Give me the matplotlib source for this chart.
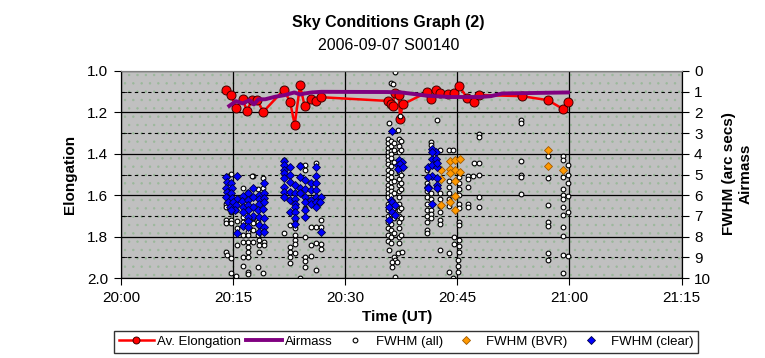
import datetime as dt

import matplotlib
matplotlib.use("Agg")
import matplotlib.dates as mdates
import matplotlib.pyplot as plt
from matplotlib.lines import Line2D
from matplotlib.ticker import FormatStrFormatter, MultipleLocator

plt.rcParams["font.family"] = ["Liberation Sans", "DejaVu Sans"]
plt.rcParams["hatch.linewidth"] = 0.5

START = dt.datetime(2006, 9, 7, 20, 0)

# all times are minutes after 20:00 UT
elong_min = [14.07, 14.73, 15.40, 16.30, 16.86, 17.53, 18.27, 19.03, 21.83, 22.63,
             23.25, 23.96, 24.58, 25.38, 26.09, 26.75, 35.70, 36.07, 36.34, 36.60,
             37.14, 37.36, 37.67, 40.96, 41.49, 42.15, 42.69, 43.79, 44.59, 45.20,
             46.36, 47.25, 47.88, 53.64, 57.10, 59.10, 59.76]
elong = [1.090, 1.114, 1.180, 1.138, 1.193, 1.141, 1.141, 1.198, 1.090, 1.150,
         1.259, 1.070, 1.169, 1.137, 1.146, 1.127, 1.145, 1.161, 1.170, 1.109,
         1.114, 1.230, 1.162, 1.103, 1.138, 1.093, 1.106, 1.112, 1.106, 1.072,
         1.132, 1.151, 1.116, 1.122, 1.141, 1.183, 1.149]

airmass_min = [14.5, 15.4, 16.3, 17.2, 17.8, 18.4, 19.3, 20.6, 21.9, 23.2, 24.0, 24.6,
               25.5, 26.8, 35.6, 37.5, 39.5, 41.0, 44.0, 48.0, 49.5, 51.0, 59.8]
airmass = [1.69, 1.46, 1.57, 1.41, 1.62, 1.37, 1.37, 1.25, 1.17, 1.04, 1.14, 1.09,
           1.04, 1.01, 1.02, 1.04, 1.13, 1.20, 1.26, 1.26, 1.22, 1.09, 1.04]

all_min = [
    # 20:14 - 20:19
    14.73, 14.15, 17.61, 19.03, 16.28, 16.95, 18.28, 19.03, 14.10, 14.06, 15.40, 14.73,
    16.28, 17.61, 14.10, 14.10, 14.73, 14.73, 15.48, 16.28, 17.61, 18.28, 15.48, 16.95,
    17.61, 16.28, 16.95, 18.28, 16.28, 16.95, 17.61, 18.41, 19.08, 15.48, 16.95, 16.95,
    18.41, 19.08, 14.06, 14.15, 14.73, 16.28, 16.95, 18.41, 16.28, 16.95, 16.95, 14.73,
    15.40, 19.03, 18.37, 17.53,
    # 20:21 - 20:27
    21.83, 21.83, 22.63, 23.29, 23.29, 23.29, 23.29, 23.29, 22.63, 22.63, 22.63, 22.63,
    23.96, 24.62, 24.62, 23.96, 24.62, 24.62, 24.62, 25.38, 25.38, 26.13, 26.13, 26.80,
    26.80, 26.13, 26.80, 26.80, 24.62, 26.13, 25.38, 24.62, 23.29,
    # 20:35 - 20:38
    36.60, 36.16, 36.38, 35.80, 37.35, 37.13,
    35.75, 35.75, 35.75, 35.75, 35.75, 35.75, 35.75, 35.75, 35.75, 35.75, 35.75,
    35.75, 35.75, 35.75, 35.75, 35.75, 35.75, 35.75, 35.75, 35.75, 35.75,
    36.10, 36.10, 36.10, 36.10, 36.10, 36.10, 36.10, 36.10, 36.10, 36.10, 36.10,
    36.10, 36.10, 36.10, 36.10, 36.10, 36.10, 36.10,
    36.50, 36.50, 36.50, 36.50, 36.50, 36.50, 36.50, 36.50,
    37.15, 37.15, 37.15, 37.15, 37.15, 37.15, 37.15, 37.15, 37.15, 37.15, 37.15,
    37.15, 37.15, 37.15, 37.15,
    37.50, 37.50, 37.50, 37.50, 37.50, 37.50, 37.50, 37.50,
    37.13, 37.58, 36.47, 36.69, 36.25, 36.90, 36.25, 36.60, 35.80,
    # 20:40 - 20:48
    41.49, 41.49, 40.90, 40.90, 40.90, 40.90, 40.90, 40.90, 40.90, 40.90, 40.90, 40.90,
    40.90, 41.49, 41.49, 41.49, 41.49, 41.49, 42.68, 42.68, 42.68, 42.68, 42.68, 42.68,
    42.68, 42.68, 43.88, 43.88, 43.88, 43.88, 43.88, 43.88, 44.46, 45.20, 45.20, 45.20,
    45.20, 45.20, 45.20, 45.20, 45.20, 44.60, 44.60, 45.20, 45.20, 45.20, 43.88, 45.10,
    45.10, 45.10, 44.46, 43.88, 46.45, 46.45, 47.12, 46.45, 47.92, 47.20, 47.92, 47.87,
    47.87, 46.45, 46.45, 47.87, 47.87, 42.24,
    # 20:53 - 21:00
    53.55, 53.55, 53.55, 53.55, 53.55, 53.55, 57.10, 57.10, 57.10, 57.10, 57.10, 57.10,
    57.10, 59.09, 59.09, 59.76, 59.09, 59.76, 59.76, 59.09, 59.09, 59.09, 59.76, 59.09,
    59.76, 59.09, 59.09, 59.09, 59.09, 59.76, 59.09,
]
all_fwhm = [
    4.98, 5.08, 5.08, 5.19, 5.67, 5.83, 5.72, 5.63, 6.40, 6.56, 6.72, 6.80,
    7.04, 7.12, 7.20, 7.36, 7.20, 7.36, 7.23, 7.28, 7.33, 7.28, 7.60, 7.76,
    7.68, 7.92, 7.92, 7.92, 8.25, 8.25, 8.25, 8.17, 8.25, 8.41, 8.49, 8.73,
    8.41, 8.41, 8.73, 8.89, 9.05, 8.97, 8.97, 8.73, 9.42, 9.69, 9.80, 9.77,
    9.90, 9.74, 9.45, 5.08,
    4.31, 7.81, 7.44, 7.60, 7.92, 8.17, 8.33, 8.78, 8.49, 8.73, 8.97, 9.29,
    4.55, 4.55, 4.79, 9.98, 8.97, 9.16, 9.48, 8.41, 8.94, 8.29, 9.61, 8.33,
    8.57, 7.52, 7.17, 7.52, 8.00, 4.44, 7.52, 6.60, 7.20,
    0.05, 0.58, 0.64, 2.51, 2.19, 2.83,
    3.30, 3.50, 3.70, 3.90, 4.10, 4.30, 4.50, 4.80, 5.00, 5.20, 5.50,
    5.70, 5.90, 6.10, 6.40, 6.70, 7.00, 7.30, 7.60, 7.90, 8.20,
    3.40, 3.60, 3.85, 4.00, 4.20, 4.60, 4.90, 5.10, 5.35, 5.60, 5.80,
    6.00, 6.30, 6.90, 7.40, 7.70, 8.00, 8.30,
    3.50, 3.80, 4.40, 5.30, 5.90, 6.60, 7.10, 7.80,
    3.30, 3.60, 3.90, 4.90, 5.20, 5.50, 5.80, 6.10, 6.40, 6.70, 7.00,
    7.30, 7.60, 8.00, 8.30,
    3.40, 3.80, 5.00, 5.40, 5.70, 6.60, 7.10, 7.90,
    8.78, 8.73, 8.97, 9.10, 9.20, 9.20, 9.45, 9.93, 8.65,
    3.42, 3.58, 4.80, 5.10, 5.40, 5.80, 6.10, 6.40, 6.70, 7.00, 7.30, 7.68,
    7.84, 5.90, 6.20, 6.72, 6.90, 7.12, 3.82, 5.90, 6.20, 6.50, 6.80, 7.20,
    7.40, 8.65, 3.82, 5.30, 5.60, 5.90, 6.20, 6.50, 3.82, 5.10, 5.40, 5.70,
    6.00, 6.40, 6.60, 7.28, 7.44, 8.00, 8.37, 8.17, 8.45, 8.73, 8.81, 9.13,
    9.40, 9.69, 10.0, 9.69, 5.08, 5.20, 5.08, 5.59, 5.03, 4.44, 4.44, 3.05,
    3.18, 6.40, 6.59, 6.10, 6.59, 2.35,
    2.35, 2.50, 4.34, 5.00, 5.14, 5.95, 4.11, 5.19, 6.45, 7.28, 7.49, 8.78,
    9.10, 4.11, 4.31, 4.55, 5.11, 5.03, 5.43, 5.72, 6.00, 6.16, 6.04, 6.59,
    6.80, 6.96, 7.55, 7.96, 8.86, 8.92, 9.77,
]

bvr_min = [42.82, 42.82, 42.82, 44.00, 44.68, 45.35, 44.00, 44.68, 45.35, 44.00,
           44.68, 44.68, 44.00, 44.68, 57.10, 57.10, 59.14]
bvr_fwhm = [4.76, 5.24, 6.48, 4.34, 4.31, 4.27, 4.71, 4.76, 4.87, 4.95,
            5.32, 6.04, 6.32, 6.72, 3.82, 4.58, 4.76]

clear_min = [
    14.06, 15.48, 14.15, 14.73, 14.06, 14.80, 14.20, 14.73, 14.06, 14.80, 15.48, 14.30,
    14.95, 15.40, 14.60, 15.20, 14.73, 16.28, 16.95, 17.61, 18.41, 19.08, 19.15, 16.20,
    16.95, 17.61, 18.41, 19.08, 16.28, 16.95, 17.65, 18.41, 19.15, 16.95, 16.28, 17.61,
    18.35, 19.00, 16.95, 18.41, 19.08, 16.95, 16.28, 16.95, 18.41, 19.08, 15.48, 18.41,
    19.08,
    21.83, 21.83, 21.83, 21.83, 21.83, 21.83, 21.83, 21.83, 22.63, 22.63, 22.63, 22.63,
    22.63, 22.63, 23.29, 23.29, 23.29, 23.29, 23.29, 23.29, 23.29, 23.29, 23.96, 23.96,
    23.96, 23.96, 24.62, 24.62, 24.62, 24.62, 24.62, 24.62, 25.38, 25.38, 25.38, 25.38,
    26.13, 26.13, 26.13, 26.13, 26.13, 26.13, 26.13, 26.80, 26.80, 26.70,
    36.33, 37.22, 37.58, 37.13, 37.49, 37.35, 37.13, 37.67, 36.07, 36.33, 35.89, 36.24,
    36.69, 35.89, 36.60,
    41.57, 42.10, 41.57, 42.10, 41.04, 41.57, 42.24, 41.57, 41.04, 42.24, 41.04, 42.24,
    41.04, 42.24, 41.57, 41.60, 42.24,
]
clear_fwhm = [
    5.11, 5.08, 5.35, 5.43, 5.63, 5.63, 5.83, 5.91, 6.08, 6.12, 6.16, 6.32,
    6.32, 6.48, 6.56, 6.69, 6.72, 6.04, 5.91, 5.63, 5.99, 5.43, 5.88, 6.28,
    6.24, 6.08, 6.20, 6.12, 6.56, 6.48, 6.56, 6.40, 6.32, 6.72, 6.80, 7.01,
    6.72, 6.64, 7.04, 7.04, 7.09, 7.23, 7.49, 7.52, 7.44, 7.52, 7.84, 7.76,
    7.76,
    4.34, 4.55, 4.79, 4.95, 5.19, 5.59, 5.83, 6.07, 4.63, 5.03, 5.35, 5.83,
    6.24, 6.80, 5.51, 5.88, 6.16, 6.40, 6.56, 6.80, 7.12, 7.39, 4.60, 5.11,
    5.67, 5.91, 5.27, 5.72, 6.07, 6.32, 6.72, 7.04, 5.43, 5.75, 6.24, 6.40,
    4.63, 5.08, 5.43, 5.75, 6.07, 6.32, 6.56, 6.07, 7.76, 6.32,
    2.89, 4.31, 4.39, 4.55, 4.63, 4.47, 4.71, 4.66, 6.24, 6.32, 6.56, 6.80,
    6.96, 7.20, 6.48,
    3.78, 3.90, 4.23, 4.23, 4.63, 4.55, 4.63, 5.08, 5.14, 5.19, 5.59, 5.51,
    5.67, 5.67, 6.43, 3.90, 4.44,
]

x_range_min = [0, 75]


def to_dt(mins):
    return [START + dt.timedelta(minutes=m) for m in mins]


fig = plt.figure(figsize=(7.65, 3.58), dpi=100)
ax = fig.add_axes([0.158, 0.223, 0.733, 0.579])
ax.patch.set_facecolor("#c0c0c0")
# faint green dotted fill, like the Excel plot area texture
ax.patch.set_edgecolor("#9ab89a")
ax.patch.set_linewidth(0)
ax.patch.set_hatch("..")
ax.set_axisbelow(True)

ax.set_xlim(to_dt(x_range_min))
ax.set_ylim(2.0, 1.0)
ax.xaxis.set_major_locator(mdates.MinuteLocator(byminute=[0, 15, 30, 45]))
ax.xaxis.set_major_formatter(mdates.DateFormatter("%H:%M"))
ax.yaxis.set_major_locator(MultipleLocator(0.2))
ax.yaxis.set_minor_locator(MultipleLocator(0.1))
ax.yaxis.set_major_formatter(FormatStrFormatter("%.1f"))
ax.grid(which="major", color="black", lw=0.9)
ax.grid(which="minor", axis="y", color="black", lw=0.8, ls=(0, (3, 3)))
ax.tick_params(which="major", direction="out", length=5, labelsize=11, pad=4, right=False)
ax.tick_params(axis="y", which="minor", direction="in", length=4, right=False)

ax.plot(to_dt(elong_min), elong, color="red", lw=1.8, marker="o", ms=6.5,
        mfc="red", mec="#400000", mew=0.7)

ax2 = ax.twinx()
ax2.set_ylim(10, 0)
ax2.yaxis.set_major_locator(MultipleLocator(1))
ax2.tick_params(direction="out", length=5, labelsize=11, pad=4)

ax2.plot(to_dt(airmass_min), airmass, color="#800080", lw=2.8)
ax2.plot(to_dt(all_min), all_fwhm, ls="none", marker="o", ms=3.4,
         mfc="white", mec="black", mew=0.8)
ax2.plot(to_dt(bvr_min), bvr_fwhm, ls="none", marker="D", ms=4.0,
         mfc="#ff9900", mec="#a05a00", mew=0.6)
ax2.plot(to_dt(clear_min), clear_fwhm, ls="none", marker="D", ms=4.2,
         mfc="#0000ff", mec="#000040", mew=0.6)

for a in (ax, ax2):
    a.spines["top"].set_color("#808080")
    a.spines["left"].set_color("black")
    a.spines["right"].set_color("black")
    a.spines["bottom"].set_color("black")

fig.text(0.508, 0.936, "Sky Conditions Graph (2)", ha="center", va="center",
         fontsize=11.5, fontweight="bold")
fig.text(0.508, 0.872, "2006-09-07 S00140", ha="center", va="center", fontsize=11.5)
fig.text(0.092, 0.514, "Elongation", rotation=90, ha="center", va="center",
         fontsize=11, fontweight="bold")
fig.text(0.519, 0.114, "Time (UT)", ha="center", va="center",
         fontsize=11, fontweight="bold")
fig.text(0.964, 0.514, "FWHM (arc secs)\nAirmass", rotation=90, ha="center",
         va="center", multialignment="center", linespacing=1.3,
         fontsize=11, fontweight="bold")

handles = [
    Line2D([], [], color="red", lw=1.8, marker="o", ms=5, mfc="red", mec="#400000", mew=0.7),
    Line2D([], [], color="#800080", lw=2.8),
    Line2D([], [], ls="none", marker="o", ms=3.4, mfc="white", mec="black", mew=0.8),
    Line2D([], [], ls="none", marker="D", ms=4.0, mfc="#ff9900", mec="#a05a00", mew=0.6),
    Line2D([], [], ls="none", marker="D", ms=4.2, mfc="#0000ff", mec="#000040", mew=0.6),
]
labels = ["Av. Elongation", "Airmass", "FWHM (all)", "FWHM (BVR)", "FWHM (clear)"]
leg = fig.legend(handles, labels, loc="center", bbox_to_anchor=(0.531, 0.045), ncol=5,
                 fontsize=9.5, frameon=True, fancybox=False, shadow=False,
                 handlelength=2.7, handletextpad=0.2, columnspacing=0.4,
                 borderpad=0.35, borderaxespad=0)
leg.get_frame().set_edgecolor("black")
leg.get_frame().set_linewidth(1.0)

fig.savefig("out.png", dpi=100)
